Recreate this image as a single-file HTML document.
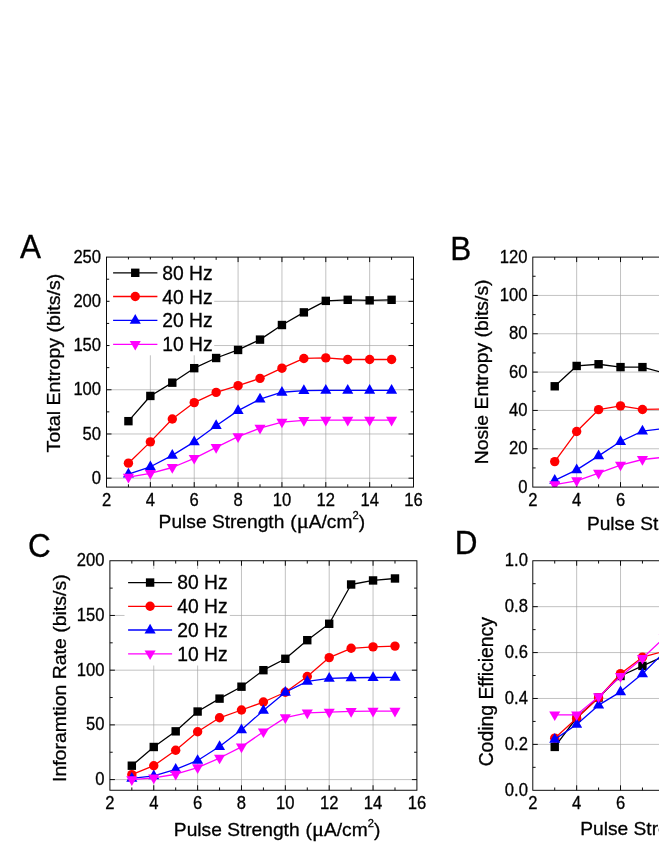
<!DOCTYPE html>
<html><head><meta charset="utf-8"><title>Figure</title>
<style>
html,body{margin:0;padding:0;background:#fff;}
body{width:659px;height:853px;overflow:hidden;font-family:"Liberation Sans",sans-serif;}
svg{display:block;} text{filter:grayscale(1);}
</style></head><body>
<svg width="659" height="853" viewBox="0 0 659 853">
<rect width="659" height="853" fill="#fff"/>
<g id="panelA">
<path d="M150.36 257.1V487.1M194.22 257.1V487.1M238.08 257.1V487.1M281.94 257.1V487.1M325.80 257.1V487.1M369.66 257.1V487.1M106.5 478.20H413.5M106.5 433.98H413.5M106.5 389.76H413.5M106.5 345.54H413.5M106.5 301.32H413.5" stroke="#a0a0a0" stroke-width="0.65" fill="none"/>
<path d="M150.36 487.1v-5M150.36 257.1v5M194.22 487.1v-5M194.22 257.1v5M238.08 487.1v-5M238.08 257.1v5M281.94 487.1v-5M281.94 257.1v5M325.80 487.1v-5M325.80 257.1v5M369.66 487.1v-5M369.66 257.1v5M128.43 487.1v-2.8M128.43 257.1v2.8M172.29 487.1v-2.8M172.29 257.1v2.8M216.15 487.1v-2.8M216.15 257.1v2.8M260.01 487.1v-2.8M260.01 257.1v2.8M303.87 487.1v-2.8M303.87 257.1v2.8M347.73 487.1v-2.8M347.73 257.1v2.8M391.59 487.1v-2.8M391.59 257.1v2.8M106.5 478.20h5M413.5 478.20h-5M106.5 433.98h5M413.5 433.98h-5M106.5 389.76h5M413.5 389.76h-5M106.5 345.54h5M413.5 345.54h-5M106.5 301.32h5M413.5 301.32h-5M106.5 456.09h2.8M413.5 456.09h-2.8M106.5 411.87h2.8M413.5 411.87h-2.8M106.5 367.65h2.8M413.5 367.65h-2.8M106.5 323.43h2.8M413.5 323.43h-2.8M106.5 279.21h2.8M413.5 279.21h-2.8" stroke="#000" stroke-width="0.95" fill="none"/>
<rect x="109.5" y="259.5" width="104.70" height="95.80" fill="#fff"/>
<clipPath id="cpA"><rect x="106.5" y="257.1" width="307.00" height="230.00"/></clipPath>
<g clip-path="url(#cpA)">
<polyline points="128.43,421.16 150.36,395.95 172.29,382.68 194.22,368.18 216.15,358.01 238.08,349.96 260.01,339.61 281.94,325.02 303.87,312.38 325.80,300.88 347.73,299.82 369.66,300.35 391.59,299.82" fill="none" stroke="#000000" stroke-width="1.3" stroke-linejoin="round"/>
<rect x="124.23" y="416.96" width="8.40" height="8.40" fill="#000000"/>
<rect x="146.16" y="391.75" width="8.40" height="8.40" fill="#000000"/>
<rect x="168.09" y="378.48" width="8.40" height="8.40" fill="#000000"/>
<rect x="190.02" y="363.98" width="8.40" height="8.40" fill="#000000"/>
<rect x="211.95" y="353.81" width="8.40" height="8.40" fill="#000000"/>
<rect x="233.88" y="345.76" width="8.40" height="8.40" fill="#000000"/>
<rect x="255.81" y="335.41" width="8.40" height="8.40" fill="#000000"/>
<rect x="277.74" y="320.82" width="8.40" height="8.40" fill="#000000"/>
<rect x="299.67" y="308.18" width="8.40" height="8.40" fill="#000000"/>
<rect x="321.60" y="296.68" width="8.40" height="8.40" fill="#000000"/>
<rect x="343.53" y="295.62" width="8.40" height="8.40" fill="#000000"/>
<rect x="365.46" y="296.15" width="8.40" height="8.40" fill="#000000"/>
<rect x="387.39" y="295.62" width="8.40" height="8.40" fill="#000000"/>
<polyline points="128.43,463.17 150.36,441.85 172.29,418.95 194.22,402.58 216.15,392.41 238.08,385.69 260.01,378.35 281.94,368.18 303.87,358.45 325.80,357.92 347.73,359.51 369.66,359.51 391.59,359.51" fill="none" stroke="#ff0000" stroke-width="1.3" stroke-linejoin="round"/>
<circle cx="128.43" cy="463.17" r="4.70" fill="#ff0000"/>
<circle cx="150.36" cy="441.85" r="4.70" fill="#ff0000"/>
<circle cx="172.29" cy="418.95" r="4.70" fill="#ff0000"/>
<circle cx="194.22" cy="402.58" r="4.70" fill="#ff0000"/>
<circle cx="216.15" cy="392.41" r="4.70" fill="#ff0000"/>
<circle cx="238.08" cy="385.69" r="4.70" fill="#ff0000"/>
<circle cx="260.01" cy="378.35" r="4.70" fill="#ff0000"/>
<circle cx="281.94" cy="368.18" r="4.70" fill="#ff0000"/>
<circle cx="303.87" cy="358.45" r="4.70" fill="#ff0000"/>
<circle cx="325.80" cy="357.92" r="4.70" fill="#ff0000"/>
<circle cx="347.73" cy="359.51" r="4.70" fill="#ff0000"/>
<circle cx="369.66" cy="359.51" r="4.70" fill="#ff0000"/>
<circle cx="391.59" cy="359.51" r="4.70" fill="#ff0000"/>
<polyline points="128.43,474.04 150.36,466.79 172.29,455.38 194.22,441.85 216.15,425.67 238.08,410.63 260.01,399.05 281.94,392.24 303.87,390.56 325.80,390.38 347.73,390.38 369.66,390.38 391.59,390.38" fill="none" stroke="#0000ff" stroke-width="1.3" stroke-linejoin="round"/>
<path d="M128.43 467.74L133.98 477.44L122.88 477.44Z" fill="#0000ff"/>
<path d="M150.36 460.49L155.91 470.19L144.81 470.19Z" fill="#0000ff"/>
<path d="M172.29 449.08L177.84 458.78L166.74 458.78Z" fill="#0000ff"/>
<path d="M194.22 435.55L199.77 445.25L188.67 445.25Z" fill="#0000ff"/>
<path d="M216.15 419.37L221.70 429.07L210.60 429.07Z" fill="#0000ff"/>
<path d="M238.08 404.33L243.63 414.03L232.53 414.03Z" fill="#0000ff"/>
<path d="M260.01 392.75L265.56 402.45L254.46 402.45Z" fill="#0000ff"/>
<path d="M281.94 385.94L287.49 395.64L276.39 395.64Z" fill="#0000ff"/>
<path d="M303.87 384.26L309.42 393.96L298.32 393.96Z" fill="#0000ff"/>
<path d="M325.80 384.08L331.35 393.78L320.25 393.78Z" fill="#0000ff"/>
<path d="M347.73 384.08L353.28 393.78L342.18 393.78Z" fill="#0000ff"/>
<path d="M369.66 384.08L375.21 393.78L364.11 393.78Z" fill="#0000ff"/>
<path d="M391.59 384.08L397.14 393.78L386.04 393.78Z" fill="#0000ff"/>
<polyline points="128.43,477.23 150.36,473.34 172.29,467.50 194.22,458.30 216.15,447.33 238.08,436.63 260.01,428.14 281.94,422.04 303.87,420.36 325.80,420.18 347.73,420.18 369.66,420.18 391.59,420.18" fill="none" stroke="#ff00ff" stroke-width="1.3" stroke-linejoin="round"/>
<path d="M128.43 483.53L133.98 473.83L122.88 473.83Z" fill="#ff00ff"/>
<path d="M150.36 479.64L155.91 469.94L144.81 469.94Z" fill="#ff00ff"/>
<path d="M172.29 473.80L177.84 464.10L166.74 464.10Z" fill="#ff00ff"/>
<path d="M194.22 464.60L199.77 454.90L188.67 454.90Z" fill="#ff00ff"/>
<path d="M216.15 453.63L221.70 443.93L210.60 443.93Z" fill="#ff00ff"/>
<path d="M238.08 442.93L243.63 433.23L232.53 433.23Z" fill="#ff00ff"/>
<path d="M260.01 434.44L265.56 424.74L254.46 424.74Z" fill="#ff00ff"/>
<path d="M281.94 428.34L287.49 418.64L276.39 418.64Z" fill="#ff00ff"/>
<path d="M303.87 426.66L309.42 416.96L298.32 416.96Z" fill="#ff00ff"/>
<path d="M325.80 426.48L331.35 416.78L320.25 416.78Z" fill="#ff00ff"/>
<path d="M347.73 426.48L353.28 416.78L342.18 416.78Z" fill="#ff00ff"/>
<path d="M369.66 426.48L375.21 416.78L364.11 416.78Z" fill="#ff00ff"/>
<path d="M391.59 426.48L397.14 416.78L386.04 416.78Z" fill="#ff00ff"/>
</g>
<rect x="106.5" y="257.1" width="307.00" height="230.00" fill="none" stroke="#000" stroke-width="0.95"/>
<path d="M113.1 272.8H157.4" stroke="#000000" stroke-width="1.3"/>
<rect x="131.05" y="268.60" width="8.40" height="8.40" fill="#000000"/>
<text transform="translate(162.30 280.00) scale(1.0 1)" font-family="Liberation Sans, sans-serif" font-size="19.3" text-anchor="start" stroke="#000" stroke-width="0.3">80 Hz</text>
<path d="M113.1 296.5H157.4" stroke="#ff0000" stroke-width="1.3"/>
<circle cx="135.25" cy="296.50" r="4.70" fill="#ff0000"/>
<text transform="translate(162.30 303.70) scale(1.0 1)" font-family="Liberation Sans, sans-serif" font-size="19.3" text-anchor="start" stroke="#000" stroke-width="0.3">40 Hz</text>
<path d="M113.1 320.4H157.4" stroke="#0000ff" stroke-width="1.3"/>
<path d="M135.25 314.10L140.80 323.80L129.70 323.80Z" fill="#0000ff"/>
<text transform="translate(162.30 327.30) scale(1.0 1)" font-family="Liberation Sans, sans-serif" font-size="19.3" text-anchor="start" stroke="#000" stroke-width="0.3">20 Hz</text>
<path d="M113.1 344.3H157.4" stroke="#ff00ff" stroke-width="1.3"/>
<path d="M135.25 350.60L140.80 340.90L129.70 340.90Z" fill="#ff00ff"/>
<text transform="translate(162.30 351.10) scale(1.0 1)" font-family="Liberation Sans, sans-serif" font-size="19.3" text-anchor="start" stroke="#000" stroke-width="0.3">10 Hz</text>
<text transform="translate(106.50 506.00) scale(0.95 1)" font-family="Liberation Sans, sans-serif" font-size="17.5" text-anchor="middle" stroke="#000" stroke-width="0.3">2</text>
<text transform="translate(150.36 506.00) scale(0.95 1)" font-family="Liberation Sans, sans-serif" font-size="17.5" text-anchor="middle" stroke="#000" stroke-width="0.3">4</text>
<text transform="translate(194.22 506.00) scale(0.95 1)" font-family="Liberation Sans, sans-serif" font-size="17.5" text-anchor="middle" stroke="#000" stroke-width="0.3">6</text>
<text transform="translate(238.08 506.00) scale(0.95 1)" font-family="Liberation Sans, sans-serif" font-size="17.5" text-anchor="middle" stroke="#000" stroke-width="0.3">8</text>
<text transform="translate(281.94 506.00) scale(0.95 1)" font-family="Liberation Sans, sans-serif" font-size="17.5" text-anchor="middle" stroke="#000" stroke-width="0.3">10</text>
<text transform="translate(325.80 506.00) scale(0.95 1)" font-family="Liberation Sans, sans-serif" font-size="17.5" text-anchor="middle" stroke="#000" stroke-width="0.3">12</text>
<text transform="translate(369.66 506.00) scale(0.95 1)" font-family="Liberation Sans, sans-serif" font-size="17.5" text-anchor="middle" stroke="#000" stroke-width="0.3">14</text>
<text transform="translate(413.52 506.00) scale(0.95 1)" font-family="Liberation Sans, sans-serif" font-size="17.5" text-anchor="middle" stroke="#000" stroke-width="0.3">16</text>
<text transform="translate(101.10 483.80) scale(0.95 1)" font-family="Liberation Sans, sans-serif" font-size="17.5" text-anchor="end" stroke="#000" stroke-width="0.3">0</text>
<text transform="translate(101.10 439.58) scale(0.95 1)" font-family="Liberation Sans, sans-serif" font-size="17.5" text-anchor="end" stroke="#000" stroke-width="0.3">50</text>
<text transform="translate(101.10 395.36) scale(0.95 1)" font-family="Liberation Sans, sans-serif" font-size="17.5" text-anchor="end" stroke="#000" stroke-width="0.3">100</text>
<text transform="translate(101.10 351.14) scale(0.95 1)" font-family="Liberation Sans, sans-serif" font-size="17.5" text-anchor="end" stroke="#000" stroke-width="0.3">150</text>
<text transform="translate(101.10 306.92) scale(0.95 1)" font-family="Liberation Sans, sans-serif" font-size="17.5" text-anchor="end" stroke="#000" stroke-width="0.3">200</text>
<text transform="translate(101.10 262.70) scale(0.95 1)" font-family="Liberation Sans, sans-serif" font-size="17.5" text-anchor="end" stroke="#000" stroke-width="0.3">250</text>
<text transform="translate(158.60 527.70) scale(1.032 1)" font-family="Liberation Sans, sans-serif" font-size="18.6" text-anchor="start" stroke="#000" stroke-width="0.3">Pulse Strength <tspan dx="0.6">(</tspan><tspan font-family="Liberation Serif, serif" font-size="21.8">μ</tspan>A/cm<tspan dy="-8.6" font-size="10.8">2</tspan><tspan dy="8.6">)</tspan></text>
<text transform="translate(59.50 363.00) rotate(-90) scale(1.0555 1)" font-family="Liberation Sans, sans-serif" font-size="18.6" text-anchor="middle" stroke="#000" stroke-width="0.3">Total Entropy (bits/s)</text>
<text transform="translate(20.00 258.40) scale(0.96 1)" font-family="Liberation Sans, sans-serif" font-size="32.8" text-anchor="start" stroke="#000" stroke-width="0.3">A</text>
</g>
<g id="panelB">
<path d="M576.66 257.1V487.1M620.52 257.1V487.1M664.38 257.1V487.1M532.8 448.77H840M532.8 410.43H840M532.8 372.10H840M532.8 333.76H840M532.8 295.43H840" stroke="#a0a0a0" stroke-width="0.65" fill="none"/>
<path d="M576.66 487.1v-5M576.66 257.1v5M620.52 487.1v-5M620.52 257.1v5M664.38 487.1v-5M664.38 257.1v5M554.73 487.1v-2.8M554.73 257.1v2.8M598.59 487.1v-2.8M598.59 257.1v2.8M642.45 487.1v-2.8M642.45 257.1v2.8M686.31 487.1v-2.8M686.31 257.1v2.8M532.8 448.77h5M840 448.77h-5M532.8 410.43h5M840 410.43h-5M532.8 372.10h5M840 372.10h-5M532.8 333.76h5M840 333.76h-5M532.8 295.43h5M840 295.43h-5M532.8 467.93h2.8M840 467.93h-2.8M532.8 429.60h2.8M840 429.60h-2.8M532.8 391.26h2.8M840 391.26h-2.8M532.8 352.93h2.8M840 352.93h-2.8M532.8 314.60h2.8M840 314.60h-2.8M532.8 276.26h2.8M840 276.26h-2.8" stroke="#000" stroke-width="0.95" fill="none"/>
<clipPath id="cpB"><rect x="532.8" y="257.1" width="307.20" height="230.00"/></clipPath>
<g clip-path="url(#cpB)">
<polyline points="554.73,386.28 576.66,365.96 598.59,364.24 620.52,367.11 642.45,367.11 664.38,373.06 686.31,375.93" fill="none" stroke="#000000" stroke-width="1.3" stroke-linejoin="round"/>
<rect x="550.53" y="382.08" width="8.40" height="8.40" fill="#000000"/>
<rect x="572.46" y="361.76" width="8.40" height="8.40" fill="#000000"/>
<rect x="594.39" y="360.04" width="8.40" height="8.40" fill="#000000"/>
<rect x="616.32" y="362.91" width="8.40" height="8.40" fill="#000000"/>
<rect x="638.25" y="362.91" width="8.40" height="8.40" fill="#000000"/>
<rect x="660.18" y="368.86" width="8.40" height="8.40" fill="#000000"/>
<rect x="682.11" y="371.73" width="8.40" height="8.40" fill="#000000"/>
<polyline points="554.73,461.61 576.66,431.52 598.59,409.67 620.52,405.83 642.45,409.47 664.38,408.90 686.31,410.43" fill="none" stroke="#ff0000" stroke-width="1.3" stroke-linejoin="round"/>
<circle cx="554.73" cy="461.61" r="4.70" fill="#ff0000"/>
<circle cx="576.66" cy="431.52" r="4.70" fill="#ff0000"/>
<circle cx="598.59" cy="409.67" r="4.70" fill="#ff0000"/>
<circle cx="620.52" cy="405.83" r="4.70" fill="#ff0000"/>
<circle cx="642.45" cy="409.47" r="4.70" fill="#ff0000"/>
<circle cx="664.38" cy="408.90" r="4.70" fill="#ff0000"/>
<circle cx="686.31" cy="410.43" r="4.70" fill="#ff0000"/>
<polyline points="554.73,480.39 576.66,469.85 598.59,455.86 620.52,441.48 642.45,431.13 664.38,428.45 686.31,427.68" fill="none" stroke="#0000ff" stroke-width="1.3" stroke-linejoin="round"/>
<path d="M554.73 474.09L560.28 483.79L549.18 483.79Z" fill="#0000ff"/>
<path d="M576.66 463.55L582.21 473.25L571.11 473.25Z" fill="#0000ff"/>
<path d="M598.59 449.56L604.14 459.26L593.04 459.26Z" fill="#0000ff"/>
<path d="M620.52 435.18L626.07 444.88L614.97 444.88Z" fill="#0000ff"/>
<path d="M642.45 424.83L648.00 434.53L636.90 434.53Z" fill="#0000ff"/>
<path d="M664.38 422.15L669.93 431.85L658.83 431.85Z" fill="#0000ff"/>
<path d="M686.31 421.38L691.86 431.08L680.76 431.08Z" fill="#0000ff"/>
<polyline points="554.73,484.61 576.66,480.77 598.59,473.11 620.52,465.06 642.45,459.50 664.38,457.20 686.31,456.43" fill="none" stroke="#ff00ff" stroke-width="1.3" stroke-linejoin="round"/>
<path d="M554.73 490.91L560.28 481.21L549.18 481.21Z" fill="#ff00ff"/>
<path d="M576.66 487.07L582.21 477.37L571.11 477.37Z" fill="#ff00ff"/>
<path d="M598.59 479.41L604.14 469.71L593.04 469.71Z" fill="#ff00ff"/>
<path d="M620.52 471.36L626.07 461.66L614.97 461.66Z" fill="#ff00ff"/>
<path d="M642.45 465.80L648.00 456.10L636.90 456.10Z" fill="#ff00ff"/>
<path d="M664.38 463.50L669.93 453.80L658.83 453.80Z" fill="#ff00ff"/>
<path d="M686.31 462.73L691.86 453.03L680.76 453.03Z" fill="#ff00ff"/>
</g>
<rect x="532.8" y="257.1" width="307.20" height="230.00" fill="none" stroke="#000" stroke-width="0.95"/>
<text transform="translate(532.80 506.00) scale(0.95 1)" font-family="Liberation Sans, sans-serif" font-size="17.5" text-anchor="middle" stroke="#000" stroke-width="0.3">2</text>
<text transform="translate(576.66 506.00) scale(0.95 1)" font-family="Liberation Sans, sans-serif" font-size="17.5" text-anchor="middle" stroke="#000" stroke-width="0.3">4</text>
<text transform="translate(620.52 506.00) scale(0.95 1)" font-family="Liberation Sans, sans-serif" font-size="17.5" text-anchor="middle" stroke="#000" stroke-width="0.3">6</text>
<text transform="translate(664.38 506.00) scale(0.95 1)" font-family="Liberation Sans, sans-serif" font-size="17.5" text-anchor="middle" stroke="#000" stroke-width="0.3">8</text>
<text transform="translate(527.40 492.70) scale(0.95 1)" font-family="Liberation Sans, sans-serif" font-size="17.5" text-anchor="end" stroke="#000" stroke-width="0.3">0</text>
<text transform="translate(527.40 454.37) scale(0.95 1)" font-family="Liberation Sans, sans-serif" font-size="17.5" text-anchor="end" stroke="#000" stroke-width="0.3">20</text>
<text transform="translate(527.40 416.03) scale(0.95 1)" font-family="Liberation Sans, sans-serif" font-size="17.5" text-anchor="end" stroke="#000" stroke-width="0.3">40</text>
<text transform="translate(527.40 377.70) scale(0.95 1)" font-family="Liberation Sans, sans-serif" font-size="17.5" text-anchor="end" stroke="#000" stroke-width="0.3">60</text>
<text transform="translate(527.40 339.36) scale(0.95 1)" font-family="Liberation Sans, sans-serif" font-size="17.5" text-anchor="end" stroke="#000" stroke-width="0.3">80</text>
<text transform="translate(527.40 301.03) scale(0.95 1)" font-family="Liberation Sans, sans-serif" font-size="17.5" text-anchor="end" stroke="#000" stroke-width="0.3">100</text>
<text transform="translate(527.40 262.70) scale(0.95 1)" font-family="Liberation Sans, sans-serif" font-size="17.5" text-anchor="end" stroke="#000" stroke-width="0.3">120</text>
<text transform="translate(586.90 530.40) scale(1.032 1)" font-family="Liberation Sans, sans-serif" font-size="18.6" text-anchor="start" stroke="#000" stroke-width="0.3">Pulse Strength <tspan dx="0.6">(</tspan><tspan font-family="Liberation Serif, serif" font-size="21.8">μ</tspan>A/cm<tspan dy="-8.6" font-size="10.8">2</tspan><tspan dy="8.6">)</tspan></text>
<text transform="translate(488.10 371.90) rotate(-90) scale(1.04 1)" font-family="Liberation Sans, sans-serif" font-size="18.6" text-anchor="middle" stroke="#000" stroke-width="0.3">Nosie Entropy (bits/s)</text>
<text transform="translate(450.15 259.50) scale(0.96 1)" font-family="Liberation Sans, sans-serif" font-size="32.8" text-anchor="start" stroke="#000" stroke-width="0.3">B</text>
</g>
<g id="panelC">
<path d="M153.76 560.75V790.25M197.62 560.75V790.25M241.48 560.75V790.25M285.34 560.75V790.25M329.20 560.75V790.25M373.06 560.75V790.25M109.9 779.60H416.9M109.9 724.89H416.9M109.9 670.18H416.9M109.9 615.46H416.9" stroke="#a0a0a0" stroke-width="0.65" fill="none"/>
<path d="M153.76 790.25v-5M153.76 560.75v5M197.62 790.25v-5M197.62 560.75v5M241.48 790.25v-5M241.48 560.75v5M285.34 790.25v-5M285.34 560.75v5M329.20 790.25v-5M329.20 560.75v5M373.06 790.25v-5M373.06 560.75v5M131.83 790.25v-2.8M131.83 560.75v2.8M175.69 790.25v-2.8M175.69 560.75v2.8M219.55 790.25v-2.8M219.55 560.75v2.8M263.41 790.25v-2.8M263.41 560.75v2.8M307.27 790.25v-2.8M307.27 560.75v2.8M351.13 790.25v-2.8M351.13 560.75v2.8M394.99 790.25v-2.8M394.99 560.75v2.8M109.9 779.60h5M416.9 779.60h-5M109.9 724.89h5M416.9 724.89h-5M109.9 670.18h5M416.9 670.18h-5M109.9 615.46h5M416.9 615.46h-5M109.9 752.24h2.8M416.9 752.24h-2.8M109.9 697.53h2.8M416.9 697.53h-2.8M109.9 642.82h2.8M416.9 642.82h-2.8M109.9 588.11h2.8M416.9 588.11h-2.8" stroke="#000" stroke-width="0.95" fill="none"/>
<rect x="124.5" y="569.0" width="105.30" height="96.50" fill="#fff"/>
<clipPath id="cpC"><rect x="109.9" y="560.75" width="307.00" height="229.50"/></clipPath>
<g clip-path="url(#cpC)">
<polyline points="131.83,765.70 153.76,746.99 175.69,731.34 197.62,711.54 219.55,698.63 241.48,686.70 263.41,670.18 285.34,658.79 307.27,640.19 329.20,623.78 351.13,584.50 373.06,580.45 394.99,578.48" fill="none" stroke="#000000" stroke-width="1.3" stroke-linejoin="round"/>
<rect x="127.63" y="761.50" width="8.40" height="8.40" fill="#000000"/>
<rect x="149.56" y="742.79" width="8.40" height="8.40" fill="#000000"/>
<rect x="171.49" y="727.14" width="8.40" height="8.40" fill="#000000"/>
<rect x="193.42" y="707.34" width="8.40" height="8.40" fill="#000000"/>
<rect x="215.35" y="694.43" width="8.40" height="8.40" fill="#000000"/>
<rect x="237.28" y="682.50" width="8.40" height="8.40" fill="#000000"/>
<rect x="259.21" y="665.98" width="8.40" height="8.40" fill="#000000"/>
<rect x="281.14" y="654.59" width="8.40" height="8.40" fill="#000000"/>
<rect x="303.07" y="635.99" width="8.40" height="8.40" fill="#000000"/>
<rect x="325.00" y="619.58" width="8.40" height="8.40" fill="#000000"/>
<rect x="346.93" y="580.30" width="8.40" height="8.40" fill="#000000"/>
<rect x="368.86" y="576.25" width="8.40" height="8.40" fill="#000000"/>
<rect x="390.79" y="574.28" width="8.40" height="8.40" fill="#000000"/>
<polyline points="131.83,774.68 153.76,765.70 175.69,750.27 197.62,731.78 219.55,717.77 241.48,710.01 263.41,702.02 285.34,692.28 307.27,676.52 329.20,657.59 351.13,648.29 373.06,646.87 394.99,646.10" fill="none" stroke="#ff0000" stroke-width="1.3" stroke-linejoin="round"/>
<circle cx="131.83" cy="774.68" r="4.70" fill="#ff0000"/>
<circle cx="153.76" cy="765.70" r="4.70" fill="#ff0000"/>
<circle cx="175.69" cy="750.27" r="4.70" fill="#ff0000"/>
<circle cx="197.62" cy="731.78" r="4.70" fill="#ff0000"/>
<circle cx="219.55" cy="717.77" r="4.70" fill="#ff0000"/>
<circle cx="241.48" cy="710.01" r="4.70" fill="#ff0000"/>
<circle cx="263.41" cy="702.02" r="4.70" fill="#ff0000"/>
<circle cx="285.34" cy="692.28" r="4.70" fill="#ff0000"/>
<circle cx="307.27" cy="676.52" r="4.70" fill="#ff0000"/>
<circle cx="329.20" cy="657.59" r="4.70" fill="#ff0000"/>
<circle cx="351.13" cy="648.29" r="4.70" fill="#ff0000"/>
<circle cx="373.06" cy="646.87" r="4.70" fill="#ff0000"/>
<circle cx="394.99" cy="646.10" r="4.70" fill="#ff0000"/>
<polyline points="131.83,778.40 153.76,775.88 175.69,769.42 197.62,760.45 219.55,746.55 241.48,729.81 263.41,710.44 285.34,692.28 307.27,681.34 329.20,678.38 351.13,677.73 373.06,677.51 394.99,677.29" fill="none" stroke="#0000ff" stroke-width="1.3" stroke-linejoin="round"/>
<path d="M131.83 772.10L137.38 781.80L126.28 781.80Z" fill="#0000ff"/>
<path d="M153.76 769.58L159.31 779.28L148.21 779.28Z" fill="#0000ff"/>
<path d="M175.69 763.12L181.24 772.82L170.14 772.82Z" fill="#0000ff"/>
<path d="M197.62 754.15L203.17 763.85L192.07 763.85Z" fill="#0000ff"/>
<path d="M219.55 740.25L225.10 749.95L214.00 749.95Z" fill="#0000ff"/>
<path d="M241.48 723.51L247.03 733.21L235.93 733.21Z" fill="#0000ff"/>
<path d="M263.41 704.14L268.96 713.84L257.86 713.84Z" fill="#0000ff"/>
<path d="M285.34 685.98L290.89 695.68L279.79 695.68Z" fill="#0000ff"/>
<path d="M307.27 675.04L312.82 684.74L301.72 684.74Z" fill="#0000ff"/>
<path d="M329.20 672.08L334.75 681.78L323.65 681.78Z" fill="#0000ff"/>
<path d="M351.13 671.43L356.68 681.13L345.58 681.13Z" fill="#0000ff"/>
<path d="M373.06 671.21L378.61 680.91L367.51 680.91Z" fill="#0000ff"/>
<path d="M394.99 670.99L400.54 680.69L389.44 680.69Z" fill="#0000ff"/>
<polyline points="131.83,779.60 153.76,777.85 175.69,774.24 197.62,767.67 219.55,758.04 241.48,746.88 263.41,731.78 285.34,717.67 307.27,712.85 329.20,712.19 351.13,711.43 373.06,711.21 394.99,711.21" fill="none" stroke="#ff00ff" stroke-width="1.3" stroke-linejoin="round"/>
<path d="M131.83 785.90L137.38 776.20L126.28 776.20Z" fill="#ff00ff"/>
<path d="M153.76 784.15L159.31 774.45L148.21 774.45Z" fill="#ff00ff"/>
<path d="M175.69 780.54L181.24 770.84L170.14 770.84Z" fill="#ff00ff"/>
<path d="M197.62 773.97L203.17 764.27L192.07 764.27Z" fill="#ff00ff"/>
<path d="M219.55 764.34L225.10 754.64L214.00 754.64Z" fill="#ff00ff"/>
<path d="M241.48 753.18L247.03 743.48L235.93 743.48Z" fill="#ff00ff"/>
<path d="M263.41 738.08L268.96 728.38L257.86 728.38Z" fill="#ff00ff"/>
<path d="M285.34 723.97L290.89 714.27L279.79 714.27Z" fill="#ff00ff"/>
<path d="M307.27 719.15L312.82 709.45L301.72 709.45Z" fill="#ff00ff"/>
<path d="M329.20 718.49L334.75 708.79L323.65 708.79Z" fill="#ff00ff"/>
<path d="M351.13 717.73L356.68 708.03L345.58 708.03Z" fill="#ff00ff"/>
<path d="M373.06 717.51L378.61 707.81L367.51 707.81Z" fill="#ff00ff"/>
<path d="M394.99 717.51L400.54 707.81L389.44 707.81Z" fill="#ff00ff"/>
</g>
<rect x="109.9" y="560.75" width="307.00" height="229.50" fill="none" stroke="#000" stroke-width="0.95"/>
<path d="M128.1 582.55H172.1" stroke="#000000" stroke-width="1.3"/>
<rect x="145.90" y="578.35" width="8.40" height="8.40" fill="#000000"/>
<text transform="translate(177.30 589.15) scale(1.0 1)" font-family="Liberation Sans, sans-serif" font-size="19.3" text-anchor="start" stroke="#000" stroke-width="0.3">80 Hz</text>
<path d="M128.1 606.3H172.1" stroke="#ff0000" stroke-width="1.3"/>
<circle cx="150.10" cy="606.30" r="4.70" fill="#ff0000"/>
<text transform="translate(177.30 612.90) scale(1.0 1)" font-family="Liberation Sans, sans-serif" font-size="19.3" text-anchor="start" stroke="#000" stroke-width="0.3">40 Hz</text>
<path d="M128.1 630.0H172.1" stroke="#0000ff" stroke-width="1.3"/>
<path d="M150.10 623.70L155.65 633.40L144.55 633.40Z" fill="#0000ff"/>
<text transform="translate(177.30 636.60) scale(1.0 1)" font-family="Liberation Sans, sans-serif" font-size="19.3" text-anchor="start" stroke="#000" stroke-width="0.3">20 Hz</text>
<path d="M128.1 653.8H172.1" stroke="#ff00ff" stroke-width="1.3"/>
<path d="M150.10 660.10L155.65 650.40L144.55 650.40Z" fill="#ff00ff"/>
<text transform="translate(177.30 661.10) scale(1.0 1)" font-family="Liberation Sans, sans-serif" font-size="19.3" text-anchor="start" stroke="#000" stroke-width="0.3">10 Hz</text>
<text transform="translate(109.90 809.45) scale(0.95 1)" font-family="Liberation Sans, sans-serif" font-size="17.5" text-anchor="middle" stroke="#000" stroke-width="0.3">2</text>
<text transform="translate(153.76 809.45) scale(0.95 1)" font-family="Liberation Sans, sans-serif" font-size="17.5" text-anchor="middle" stroke="#000" stroke-width="0.3">4</text>
<text transform="translate(197.62 809.45) scale(0.95 1)" font-family="Liberation Sans, sans-serif" font-size="17.5" text-anchor="middle" stroke="#000" stroke-width="0.3">6</text>
<text transform="translate(241.48 809.45) scale(0.95 1)" font-family="Liberation Sans, sans-serif" font-size="17.5" text-anchor="middle" stroke="#000" stroke-width="0.3">8</text>
<text transform="translate(285.34 809.45) scale(0.95 1)" font-family="Liberation Sans, sans-serif" font-size="17.5" text-anchor="middle" stroke="#000" stroke-width="0.3">10</text>
<text transform="translate(329.20 809.45) scale(0.95 1)" font-family="Liberation Sans, sans-serif" font-size="17.5" text-anchor="middle" stroke="#000" stroke-width="0.3">12</text>
<text transform="translate(373.06 809.45) scale(0.95 1)" font-family="Liberation Sans, sans-serif" font-size="17.5" text-anchor="middle" stroke="#000" stroke-width="0.3">14</text>
<text transform="translate(416.92 809.45) scale(0.95 1)" font-family="Liberation Sans, sans-serif" font-size="17.5" text-anchor="middle" stroke="#000" stroke-width="0.3">16</text>
<text transform="translate(104.50 785.20) scale(0.95 1)" font-family="Liberation Sans, sans-serif" font-size="17.5" text-anchor="end" stroke="#000" stroke-width="0.3">0</text>
<text transform="translate(104.50 730.49) scale(0.95 1)" font-family="Liberation Sans, sans-serif" font-size="17.5" text-anchor="end" stroke="#000" stroke-width="0.3">50</text>
<text transform="translate(104.50 675.78) scale(0.95 1)" font-family="Liberation Sans, sans-serif" font-size="17.5" text-anchor="end" stroke="#000" stroke-width="0.3">100</text>
<text transform="translate(104.50 621.06) scale(0.95 1)" font-family="Liberation Sans, sans-serif" font-size="17.5" text-anchor="end" stroke="#000" stroke-width="0.3">150</text>
<text transform="translate(104.50 566.35) scale(0.95 1)" font-family="Liberation Sans, sans-serif" font-size="17.5" text-anchor="end" stroke="#000" stroke-width="0.3">200</text>
<text transform="translate(173.85 835.90) scale(1.032 1)" font-family="Liberation Sans, sans-serif" font-size="18.6" text-anchor="start" stroke="#000" stroke-width="0.3">Pulse Strength <tspan dx="0.6">(</tspan><tspan font-family="Liberation Serif, serif" font-size="21.8">μ</tspan>A/cm<tspan dy="-8.6" font-size="10.8">2</tspan><tspan dy="8.6">)</tspan></text>
<text transform="translate(65.70 678.20) rotate(-90) scale(1.0136 1)" font-family="Liberation Sans, sans-serif" font-size="19.2" text-anchor="middle" stroke="#000" stroke-width="0.3">Inforamtion Rate (bits/s)</text>
<text transform="translate(27.90 556.70) scale(0.96 1)" font-family="Liberation Sans, sans-serif" font-size="32.8" text-anchor="start" stroke="#000" stroke-width="0.3">C</text>
</g>
<g id="panelD">
<path d="M576.66 560.75V790.3M620.52 560.75V790.3M664.38 560.75V790.3M532.8 744.39H840M532.8 698.48H840M532.8 652.57H840M532.8 606.66H840" stroke="#a0a0a0" stroke-width="0.65" fill="none"/>
<path d="M576.66 790.3v-5M576.66 560.75v5M620.52 790.3v-5M620.52 560.75v5M664.38 790.3v-5M664.38 560.75v5M554.73 790.3v-2.8M554.73 560.75v2.8M598.59 790.3v-2.8M598.59 560.75v2.8M642.45 790.3v-2.8M642.45 560.75v2.8M686.31 790.3v-2.8M686.31 560.75v2.8M532.8 744.39h5M840 744.39h-5M532.8 698.48h5M840 698.48h-5M532.8 652.57h5M840 652.57h-5M532.8 606.66h5M840 606.66h-5M532.8 767.34h2.8M840 767.34h-2.8M532.8 721.43h2.8M840 721.43h-2.8M532.8 675.52h2.8M840 675.52h-2.8M532.8 629.62h2.8M840 629.62h-2.8M532.8 583.70h2.8M840 583.70h-2.8" stroke="#000" stroke-width="0.95" fill="none"/>
<clipPath id="cpD"><rect x="532.8" y="560.75" width="307.20" height="229.55"/></clipPath>
<g clip-path="url(#cpD)">
<polyline points="554.73,746.92 576.66,717.76 598.59,697.56 620.52,675.98 642.45,665.88 664.38,656.01 686.31,645.68" fill="none" stroke="#000000" stroke-width="1.3" stroke-linejoin="round"/>
<rect x="550.53" y="742.72" width="8.40" height="8.40" fill="#000000"/>
<rect x="572.46" y="713.56" width="8.40" height="8.40" fill="#000000"/>
<rect x="594.39" y="693.36" width="8.40" height="8.40" fill="#000000"/>
<rect x="616.32" y="671.78" width="8.40" height="8.40" fill="#000000"/>
<rect x="638.25" y="661.68" width="8.40" height="8.40" fill="#000000"/>
<rect x="660.18" y="651.81" width="8.40" height="8.40" fill="#000000"/>
<rect x="682.11" y="641.48" width="8.40" height="8.40" fill="#000000"/>
<polyline points="554.73,738.19 576.66,718.22 598.59,697.79 620.52,673.69 642.45,657.16 664.38,651.19 686.31,641.09" fill="none" stroke="#ff0000" stroke-width="1.3" stroke-linejoin="round"/>
<circle cx="554.73" cy="738.19" r="4.70" fill="#ff0000"/>
<circle cx="576.66" cy="718.22" r="4.70" fill="#ff0000"/>
<circle cx="598.59" cy="697.79" r="4.70" fill="#ff0000"/>
<circle cx="620.52" cy="673.69" r="4.70" fill="#ff0000"/>
<circle cx="642.45" cy="657.16" r="4.70" fill="#ff0000"/>
<circle cx="664.38" cy="651.19" r="4.70" fill="#ff0000"/>
<circle cx="686.31" cy="641.09" r="4.70" fill="#ff0000"/>
<polyline points="554.73,739.34 576.66,724.42 598.59,705.14 620.52,691.82 642.45,673.80 664.38,652.11 686.31,641.09" fill="none" stroke="#0000ff" stroke-width="1.3" stroke-linejoin="round"/>
<path d="M554.73 733.04L560.28 742.74L549.18 742.74Z" fill="#0000ff"/>
<path d="M576.66 718.12L582.21 727.82L571.11 727.82Z" fill="#0000ff"/>
<path d="M598.59 698.84L604.14 708.54L593.04 708.54Z" fill="#0000ff"/>
<path d="M620.52 685.52L626.07 695.22L614.97 695.22Z" fill="#0000ff"/>
<path d="M642.45 667.50L648.00 677.20L636.90 677.20Z" fill="#0000ff"/>
<path d="M664.38 645.81L669.93 655.51L658.83 655.51Z" fill="#0000ff"/>
<path d="M686.31 634.79L691.86 644.49L680.76 644.49Z" fill="#0000ff"/>
<polyline points="554.73,714.78 576.66,714.78 598.59,696.64 620.52,676.44 642.45,658.31 664.38,637.42 686.31,625.02" fill="none" stroke="#ff00ff" stroke-width="1.3" stroke-linejoin="round"/>
<path d="M554.73 721.08L560.28 711.38L549.18 711.38Z" fill="#ff00ff"/>
<path d="M576.66 721.08L582.21 711.38L571.11 711.38Z" fill="#ff00ff"/>
<path d="M598.59 702.94L604.14 693.24L593.04 693.24Z" fill="#ff00ff"/>
<path d="M620.52 682.74L626.07 673.04L614.97 673.04Z" fill="#ff00ff"/>
<path d="M642.45 664.61L648.00 654.91L636.90 654.91Z" fill="#ff00ff"/>
<path d="M664.38 643.72L669.93 634.02L658.83 634.02Z" fill="#ff00ff"/>
<path d="M686.31 631.32L691.86 621.62L680.76 621.62Z" fill="#ff00ff"/>
</g>
<rect x="532.8" y="560.75" width="307.20" height="229.55" fill="none" stroke="#000" stroke-width="0.95"/>
<text transform="translate(532.80 809.20) scale(0.95 1)" font-family="Liberation Sans, sans-serif" font-size="17.5" text-anchor="middle" stroke="#000" stroke-width="0.3">2</text>
<text transform="translate(576.66 809.20) scale(0.95 1)" font-family="Liberation Sans, sans-serif" font-size="17.5" text-anchor="middle" stroke="#000" stroke-width="0.3">4</text>
<text transform="translate(620.52 809.20) scale(0.95 1)" font-family="Liberation Sans, sans-serif" font-size="17.5" text-anchor="middle" stroke="#000" stroke-width="0.3">6</text>
<text transform="translate(664.38 809.20) scale(0.95 1)" font-family="Liberation Sans, sans-serif" font-size="17.5" text-anchor="middle" stroke="#000" stroke-width="0.3">8</text>
<text transform="translate(527.90 795.90) scale(0.95 1)" font-family="Liberation Sans, sans-serif" font-size="17.5" text-anchor="end" stroke="#000" stroke-width="0.3">0.0</text>
<text transform="translate(527.90 749.99) scale(0.95 1)" font-family="Liberation Sans, sans-serif" font-size="17.5" text-anchor="end" stroke="#000" stroke-width="0.3">0.2</text>
<text transform="translate(527.90 704.08) scale(0.95 1)" font-family="Liberation Sans, sans-serif" font-size="17.5" text-anchor="end" stroke="#000" stroke-width="0.3">0.4</text>
<text transform="translate(527.90 658.17) scale(0.95 1)" font-family="Liberation Sans, sans-serif" font-size="17.5" text-anchor="end" stroke="#000" stroke-width="0.3">0.6</text>
<text transform="translate(527.90 612.26) scale(0.95 1)" font-family="Liberation Sans, sans-serif" font-size="17.5" text-anchor="end" stroke="#000" stroke-width="0.3">0.8</text>
<text transform="translate(527.90 566.35) scale(0.95 1)" font-family="Liberation Sans, sans-serif" font-size="17.5" text-anchor="end" stroke="#000" stroke-width="0.3">1.0</text>
<text transform="translate(580.30 835.30) scale(1.032 1)" font-family="Liberation Sans, sans-serif" font-size="18.6" text-anchor="start" stroke="#000" stroke-width="0.3">Pulse Strength <tspan dx="0.6">(</tspan><tspan font-family="Liberation Serif, serif" font-size="21.8">μ</tspan>A/cm<tspan dy="-8.6" font-size="10.8">2</tspan><tspan dy="8.6">)</tspan></text>
<text transform="translate(492.60 691.70) rotate(-90) scale(1.005 1)" font-family="Liberation Sans, sans-serif" font-size="19.3" text-anchor="middle" stroke="#000" stroke-width="0.3">Coding Efficiency</text>
<text transform="translate(454.80 554.40) scale(0.96 1)" font-family="Liberation Sans, sans-serif" font-size="32.8" text-anchor="start" stroke="#000" stroke-width="0.3">D</text>
</g>
</svg>
</body></html>
